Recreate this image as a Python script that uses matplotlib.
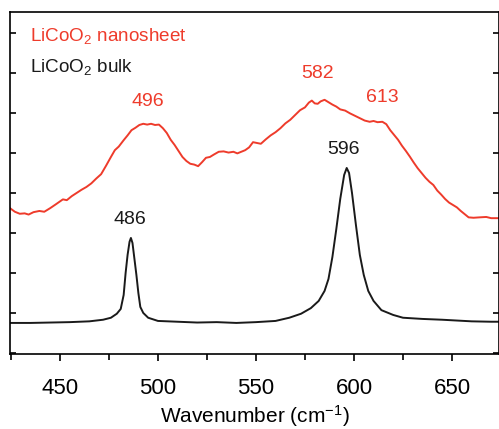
import matplotlib
matplotlib.use("Agg")
import matplotlib.pyplot as plt
from matplotlib.ticker import MultipleLocator

plt.rcParams['font.family'] = ['Liberation Sans', 'DejaVu Sans']
plt.rcParams['mathtext.fontset'] = 'custom'
plt.rcParams['mathtext.rm'] = 'Liberation Sans'
plt.rcParams['mathtext.it'] = 'Liberation Sans:italic'

# bulk LiCoO2 Raman spectrum (wavenumber, intensity a.u.)
bulk_wn = [425, 435, 445, 455, 465, 472, 476, 479, 481, 482.5, 483.5, 484.5,
           485.5, 486.2, 487, 488, 489, 490, 491, 492.5, 495, 500, 510, 520,
           530, 540, 550, 560, 567, 573, 578, 582, 585, 587, 589, 591, 593,
           595, 596.3, 597.5, 599, 601, 603, 605, 607.3, 610, 614, 620, 625,
           635, 645, 660, 670, 675]
bulk_int = [-0.25, -0.25, -0.24, -0.23, -0.21, -0.17, -0.12, -0.02, 0.10, 0.45,
            1.0, 1.45, 1.78, 1.875, 1.75, 1.35, 0.95, 0.5, 0.15, 0.0, -0.12,
            -0.2, -0.22, -0.24, -0.23, -0.25, -0.23, -0.2, -0.12, -0.02, 0.12,
            0.3, 0.55, 0.85, 1.4, 2.1, 2.85, 3.45, 3.625, 3.5, 3.0, 2.2, 1.45,
            0.95, 0.55, 0.3, 0.07, -0.05, -0.12, -0.15, -0.17, -0.21, -0.22,
            -0.22]

# nanosheet LiCoO2 Raman spectrum
nano_wn = [424.5, 427, 429.5, 432, 434, 436.5, 439.5, 442, 445, 448, 451.5,
           453.5, 456, 458.5, 461, 463.5, 466, 468.5, 471, 473.5, 476, 478,
           480, 482.5, 484.5, 486.5, 488.5, 490.5, 492.5, 494.5, 496.5, 498.5,
           500.5, 502.5, 504.5, 506.5, 508.5, 510.5, 512.5, 514.5, 516.5,
           518.5, 520.5, 522.5, 524.5, 526.5, 528.5, 531, 533.5, 536, 538.5,
           540.5, 542.5, 544.5, 546.5, 548.5, 550.5, 552.5, 555, 557.5, 560,
           562.5, 565, 567.5, 570, 572.5, 575, 577, 578.5, 580, 581.5, 583,
           585, 587, 589, 591, 593, 595.5, 598, 600.5, 603, 605.5, 608, 610,
           612, 614.5, 616.5, 618.5, 620.5, 622.5, 624.5, 626.5, 628.5, 630.5,
           632.5, 634.5, 636.5, 638.5, 640.5, 642.5, 644.5, 646.5, 648.5,
           650.5, 652.5, 654.5, 656.5, 658.5, 661, 664, 667.5, 670, 673.6, 675]
nano_int = [2.62, 2.53, 2.48, 2.49, 2.46, 2.52, 2.55, 2.53, 2.62, 2.72, 2.84,
            2.82, 2.92, 3.00, 3.08, 3.15, 3.24, 3.36, 3.47, 3.68, 3.90, 4.07,
            4.16, 4.32, 4.44, 4.57, 4.63, 4.70, 4.73, 4.71, 4.73, 4.70, 4.71,
            4.62, 4.50, 4.33, 4.20, 4.05, 3.90, 3.80, 3.73, 3.71, 3.67, 3.77,
            3.88, 3.90, 3.96, 4.03, 4.04, 4.01, 4.03, 3.99, 4.03, 4.07, 4.14,
            4.27, 4.25, 4.23, 4.34, 4.44, 4.52, 4.62, 4.74, 4.83, 4.95, 5.07,
            5.14, 5.26, 5.31, 5.24, 5.23, 5.29, 5.33, 5.27, 5.21, 5.16, 5.09,
            5.06, 4.99, 4.93, 4.87, 4.81, 4.78, 4.80, 4.77, 4.78, 4.72, 4.57,
            4.45, 4.33, 4.18, 4.05, 3.91, 3.76, 3.62, 3.50, 3.38, 3.28, 3.20,
            3.06, 2.96, 2.85, 2.76, 2.70, 2.64, 2.55, 2.47, 2.39, 2.38, 2.39,
            2.40, 2.37, 2.37, 2.37]

red = '#ee3b2b'
nano_peaks = ['496', '582', '613']
nano_peak_pos = [(494.9, 5.275), (581.6, 5.975), (614.3, 5.375)]
bulk_peaks = ['486', '596']
bulk_peak_pos = [(485.7, 2.325), (594.9, 4.075)]

fig = plt.figure(figsize=(4.99, 4.29), dpi=100)
ax = fig.add_axes([0.02, 0.175, 0.98, 0.797])

ax.plot(bulk_wn, bulk_int, color='#1a1a1a', lw=1.4)
ax.plot(nano_wn, nano_int, color=red, lw=1.4)

for lab, (x, y) in zip(nano_peaks, nano_peak_pos):
    ax.text(x, y, lab, color=red, fontsize=14, ha='center', va='center')
for lab, (x, y) in zip(bulk_peaks, bulk_peak_pos):
    ax.text(x, y, lab, color='#1a1a1a', fontsize=14, ha='center', va='center')

ax.text(434.7, 6.925, 'LiCoO$_2$ nanosheet', color=red, fontsize=13.6,
        ha='left', va='center')
ax.text(434.7, 6.15, 'LiCoO$_2$ bulk', color='#1a1a1a', fontsize=13.6,
        ha='left', va='center')

ax.set_xlim(424.5, 674)
ax.set_ylim(-1.025, 7.525)
ax.xaxis.set_major_locator(MultipleLocator(50))
ax.xaxis.set_minor_locator(MultipleLocator(25))
ax.yaxis.set_major_locator(MultipleLocator(1))
ax.tick_params(axis='x', which='major', direction='out', length=5, width=1.2,
               labelsize=16, pad=12)
ax.tick_params(axis='x', which='minor', direction='out', length=4, width=1.2)
ax.tick_params(axis='y', which='major', direction='in', length=4, width=1.2,
               left=True, right=True, labelleft=False)
for s in ax.spines.values():
    s.set_linewidth(1.2)

ax.set_xlabel('Wavenumber (cm$^{-1}$)', fontsize=15, labelpad=3)

fig.savefig('out.png', dpi=100)
